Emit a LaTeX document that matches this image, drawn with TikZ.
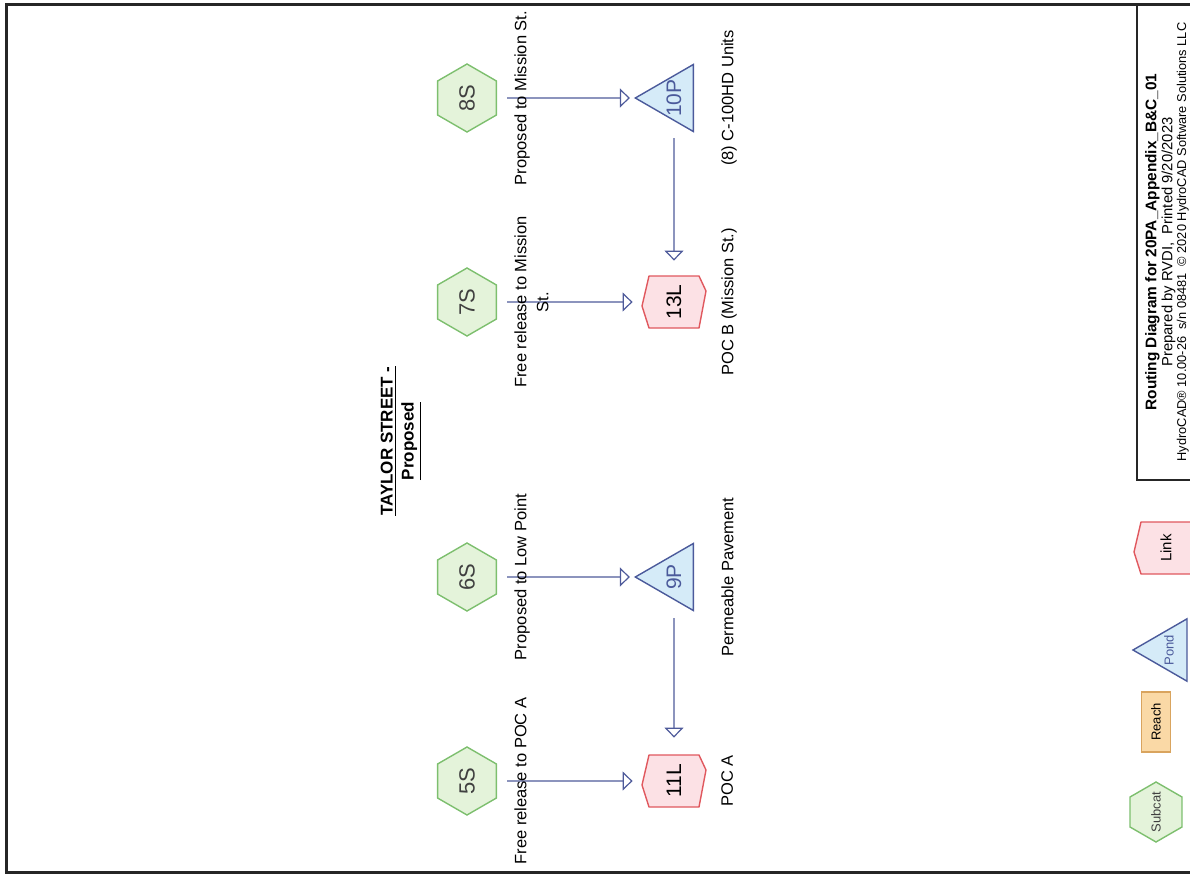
\documentclass[tikz,border=0pt]{standalone}
\usepackage{fontspec}
\setmainfont{Liberation Sans}
\usetikzlibrary{positioning,shapes.geometric,arrows.meta}
\definecolor{subedge}{HTML}{7DBF6E}
\definecolor{subfill}{HTML}{E4F3DA}
\definecolor{pondedge}{HTML}{4B5A9B}
\definecolor{pondfill}{HTML}{D5EBF8}
\definecolor{linkedge}{HTML}{E0585E}
\definecolor{linkfill}{HTML}{FCE1E5}
\definecolor{reachedge}{HTML}{D9A45E}
\definecolor{reachfill}{HTML}{FAD9A6}
\definecolor{flow}{HTML}{4E5A9A}
% link outline around (x,y), then the named node on top
\newcommand{\linkbox}[4]{%
  \begin{scope}[shift={(#2,#3)}]
    \filldraw[draw=linkedge,fill=linkfill,line width=0.7pt,line join=round]
      (-25,-26) -- (25,-26) -- (32,-11) -- (25,26) -- (-25,26) -- (-32,4) -- cycle;
  \end{scope}
  \node[linklbl] (#1) at (#2,#3) {#4};}

\begin{document}
\begin{tikzpicture}[x=0.5pt,y=-0.5pt,
  subcat/.style={regular polygon,regular polygon sides=6,rotate=90,minimum size=34pt,
    inner sep=-4pt,draw=subedge,fill=subfill,line width=0.7pt,
    font=\fontsize{11}{12}\selectfont,text=black!75},
  pond/.style={regular polygon,regular polygon sides=3,rotate=90,minimum size=38.7pt,
    inner sep=-6pt,draw=pondedge,fill=pondfill,line width=0.7pt,
    font=\fontsize{10.5}{12}\selectfont,text=pondedge},
  linklbl/.style={rectangle,rotate=90,minimum width=26pt,minimum height=31pt,inner sep=0pt,
    font=\fontsize{10.5}{12}\selectfont},
  reachbox/.style={rectangle,rotate=90,minimum width=30pt,minimum height=14.5pt,inner sep=0pt,
    draw=reachedge,fill=reachfill,line width=0.7pt,font=\fontsize{6.5}{8}\selectfont},
  flowto/.style={draw=flow,line width=0.6pt,-{Triangle[open,length=5pt,width=9.5pt]}},
  note/.style={rotate=90,anchor=north,align=center,inner sep=0pt,
    font=\fontsize{8.25}{11}\selectfont},
  titleblk/.style={rotate=90,align=center,inner sep=0pt,font=\fontsize{6.4}{6.8}\selectfont},
]
\useasboundingbox (0,0) rectangle (1190,878);
% sheet frame and title block
\draw[line width=1.5pt,black!85] (1190,4) -- (6,4) -- (6,872) -- (1190,872);
\draw[line width=1.2pt,black!85] (1137,4) -- (1137,480) -- (1190,480);
\node[titleblk] (tb) at (1167,242)
  {{\bfseries\fontsize{7.7}{6.8}\selectfont Routing Diagram for 20PA\_Appendix\_B\&C\_01}\\
   {\fontsize{7.4}{6.8}\selectfont Prepared by RVDI,\ \ Printed 9/20/2023}\\
   HydroCAD® 10.00-26\ \ s/n 08481\ \ © 2020 HydroCAD Software Solutions LLC};

% heading
\node[rotate=90,align=center,font=\bfseries\fontsize{8.5}{10.5}\selectfont] (head) at (401,441)
  {\underline{TAYLOR STREET -}\\\underline{Proposed}};

% subcatchments
\node[subcat] (5S) at (467,781) {5S};
\node[subcat] (6S) at (467,577) {6S};
\node[subcat] (7S) at (467,302) {7S};
\node[subcat] (8S) at (467,98) {8S};

% ponds and links
\node[pond] (9P) at (674,577) {9P};
\node[pond] (10P) at (674,98) {10P};
\linkbox{11L}{674}{781}{11L}
\linkbox{13L}{674}{302}{13L}

% routing
\draw[flowto,shorten <=5pt,shorten >=5pt] (5S) -- (11L);
\draw[flowto,shorten <=5pt,shorten >=2pt] (6S) -- (9P);
\draw[flowto,shorten <=5pt,shorten >=5pt] (7S) -- (13L);
\draw[flowto,shorten <=5pt,shorten >=2pt] (8S) -- (10P);
\draw[flowto,shorten <=9pt,shorten >=8.5pt] (9P) -- (11L);
\draw[flowto,shorten <=8.5pt,shorten >=7.5pt] (10P) -- (13L);

% descriptions
\node[note] (d5S) at (514,781) {Free release to POC A};
\node[note] (d6S) at (514,577) {Proposed to Low Point};
\node[note] (d7S) at (514,302) {Free release to Mission\\St.};
\node[note] (d8S) at (514,98) {Proposed to Mission St.};
\node[note] (d11L) at (721,781) {POC A};
\node[note] (d9P) at (721,577) {Permeable Pavement};
\node[note] (d13L) at (721,302) {POC B (Mission St.)};
\node[note] (d10P) at (721,98) {(8) C-100HD Units};

% legend
\node[subcat,minimum size=30pt,font=\fontsize{6.5}{8}\selectfont] (lgSub) at (1156,812) {Subcat};
\node[reachbox] (lgReach) at (1156,722) {Reach};
\node[pond,minimum size=36pt,font=\fontsize{6.5}{8}\selectfont] (lgPond) at (1169,650) {Pond};
\linkbox{lgLink}{1166}{548}{\fontsize{7.5}{8}\selectfont Link}
\end{tikzpicture}
\end{document}
